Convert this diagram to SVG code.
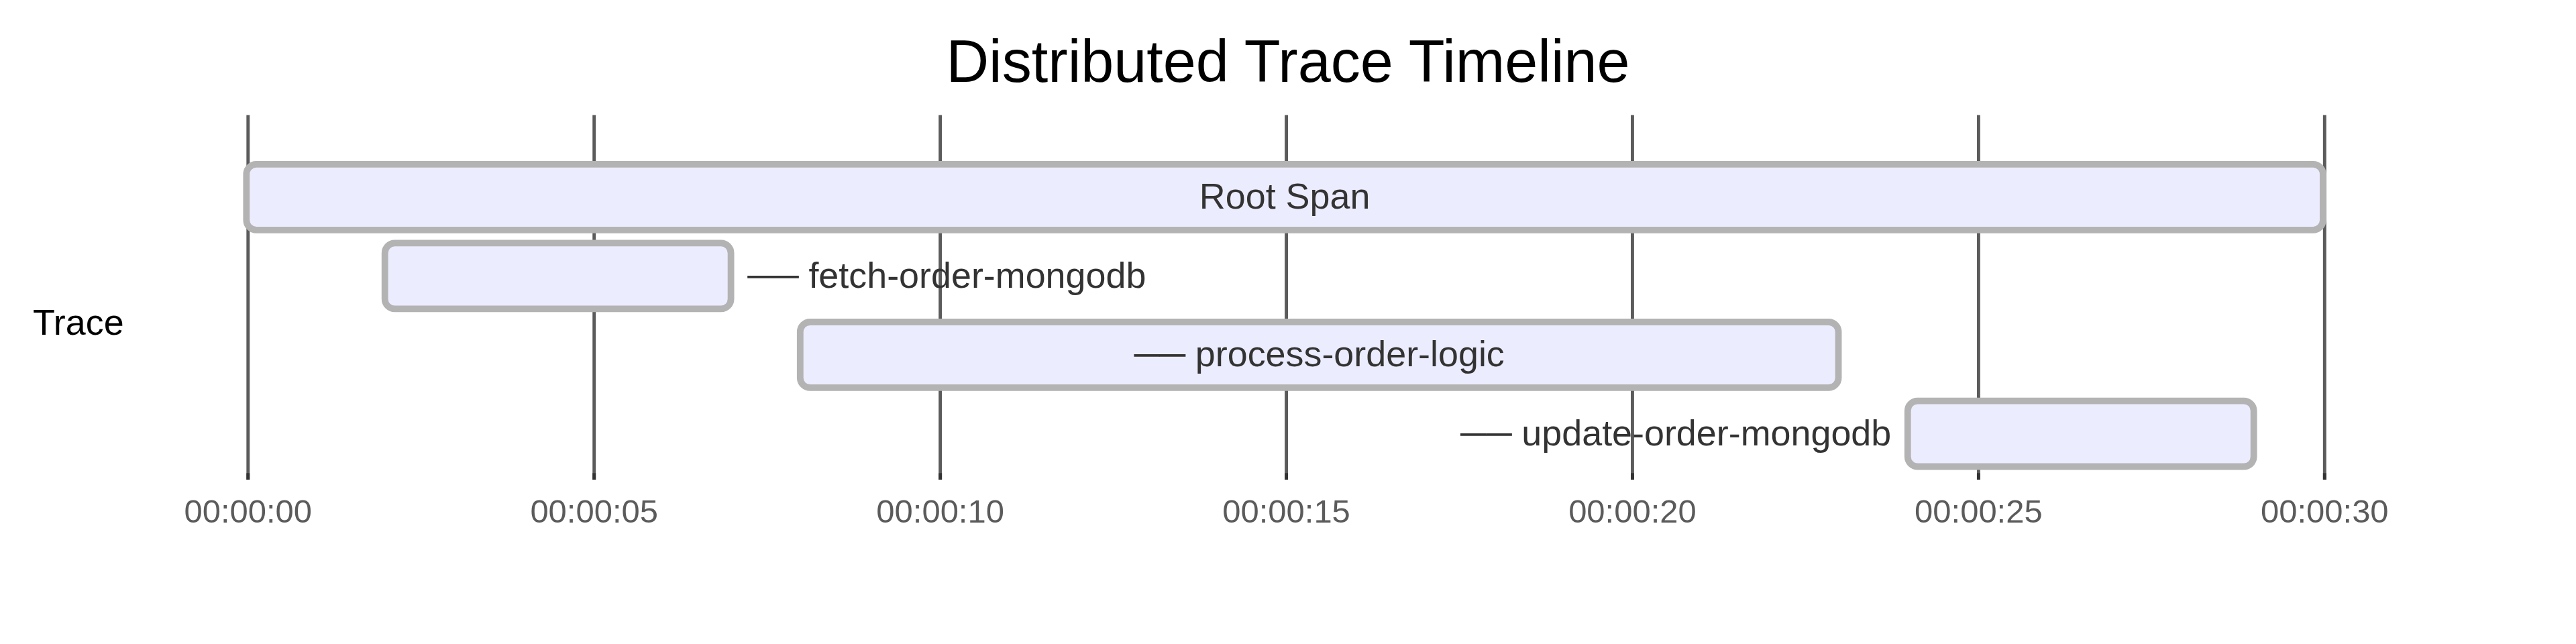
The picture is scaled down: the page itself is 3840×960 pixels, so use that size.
<svg xmlns="http://www.w3.org/2000/svg" width="3840" height="960" viewBox="0 0 3840 960">
<style>
  text { font-family: "Liberation Sans", Arial, sans-serif; }
  .title { font-size: 18px; fill: #000; text-anchor: middle; }
  .section { font-size: 11px; fill: #000; dominant-baseline: central; }
  .task { fill: #ECECFF; stroke: #b3b3b3; stroke-width: 2; }
  .ttext { font-size: 11px; fill: #333; }
  .mid { text-anchor: middle; }
  .end { text-anchor: end; }
  .tick line { stroke: #333; stroke-width: 1; }
  .tick { opacity: 0.8; }
  .tick text { font-size: 10px; fill: #333; text-anchor: middle; }
  .foot { stroke: #333; stroke-width: 1; }
</style>
<rect width="3840" height="960" fill="#fff"/>
<g transform="scale(4.8979592)">
  <g id="grid">
    <g class="tick"><line x1="75.5" y1="146" x2="75.5" y2="35"/><text x="75.5" y="159">00:00:00</text></g>
    <g class="tick"><line x1="180.83" y1="146" x2="180.83" y2="35"/><text x="180.83" y="159">00:00:05</text></g>
    <g class="tick"><line x1="286.17" y1="146" x2="286.17" y2="35"/><text x="286.17" y="159">00:00:10</text></g>
    <g class="tick"><line x1="391.5" y1="146" x2="391.5" y2="35"/><text x="391.5" y="159">00:00:15</text></g>
    <g class="tick"><line x1="496.83" y1="146" x2="496.83" y2="35"/><text x="496.83" y="159">00:00:20</text></g>
    <g class="tick"><line x1="602.17" y1="146" x2="602.17" y2="35"/><text x="602.17" y="159">00:00:25</text></g>
    <g class="tick"><line x1="707.5" y1="146" x2="707.5" y2="35"/><text x="707.5" y="159">00:00:30</text></g>
    <g id="tick-feet">
      <line class="foot" x1="75.5" y1="144" x2="75.5" y2="146"/>
      <line class="foot" x1="180.83" y1="144" x2="180.83" y2="146"/>
      <line class="foot" x1="286.17" y1="144" x2="286.17" y2="146"/>
      <line class="foot" x1="391.5" y1="144" x2="391.5" y2="146"/>
      <line class="foot" x1="496.83" y1="144" x2="496.83" y2="146"/>
      <line class="foot" x1="602.17" y1="144" x2="602.17" y2="146"/>
      <line class="foot" x1="707.5" y1="144" x2="707.5" y2="146"/>
    </g>
  </g>
  <g id="connectors"></g>
  <g id="root-span">
    <rect class="task" x="75" y="50" width="632" height="20" rx="3" ry="3"/>
    <text class="ttext mid" x="391" y="63.5">Root Span</text>
  </g>
  <g id="fetch-order-mongodb">
    <rect class="task" x="117.13" y="74" width="105.33" height="20" rx="3" ry="3"/>
    <text class="ttext" x="227.47" y="87.5">── fetch-order-mongodb</text>
  </g>
  <g id="process-order-logic">
    <rect class="task" x="243.53" y="98" width="316" height="20" rx="3" ry="3"/>
    <text class="ttext mid" x="401.53" y="111.5">── process-order-logic</text>
  </g>
  <g id="update-order-mongodb">
    <rect class="task" x="580.6" y="122" width="105.33" height="20" rx="3" ry="3"/>
    <text class="ttext end" x="575.6" y="135.5">── update-order-mongodb</text>
  </g>
  <g id="section-trace">
    <text class="section" x="10" y="98">Trace</text>
  </g>
  <g id="title">
    <text class="title" x="392" y="25">Distributed Trace Timeline</text>
  </g>
</g>
</svg>
